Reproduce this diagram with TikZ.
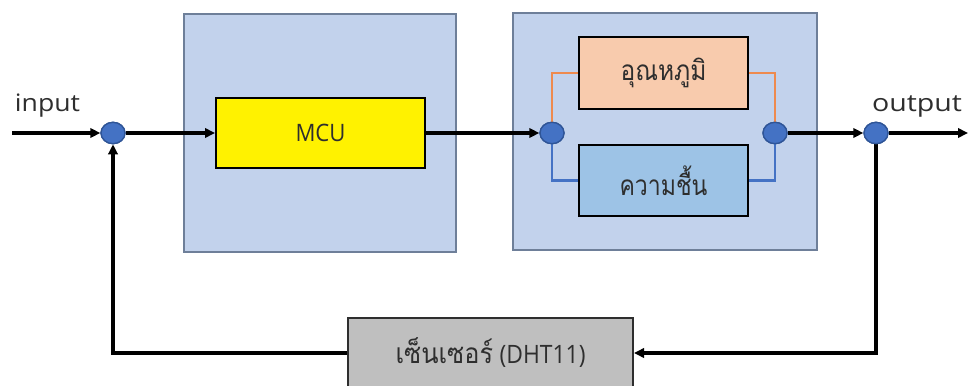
\documentclass[tikz,border=0pt]{standalone}
\usepackage{fontspec}
\usepackage{graphicx}
\setmainfont{Open Sans}
\newfontfamily\thaifont[Script=Thai]{Loma}
\usetikzlibrary{arrows.meta,shapes.geometric}
\definecolor{bigfill}{HTML}{C2D2EC}
\definecolor{bigline}{HTML}{6E7F99}
\definecolor{tempfill}{HTML}{F8CBAD}
\definecolor{humfill}{HTML}{9DC3E6}
\definecolor{orangeline}{HTML}{EE8A4E}
\definecolor{blueline}{HTML}{4472C4}
\definecolor{dotfill}{HTML}{4472C4}
\definecolor{dotline}{HTML}{2F5597}
\definecolor{sensfill}{HTML}{BFBFBF}
\definecolor{txt}{HTML}{2E2E2E}
\newcommand{\fitw}[2]{\resizebox{#1}{\height}{#2}}
\tikzset{
  bigbox/.style={draw=bigline, fill=bigfill, line width=1.6pt},
  blockbox/.style={draw=black, line width=1.5pt, inner sep=0pt, text=txt},
  dot/.style={ellipse, draw=dotline, fill=dotfill, line width=1pt, minimum width=18pt, minimum height=16pt, inner sep=0pt},
  conn/.style={line width=2.3pt, black},
  arr/.style={conn, -{Triangle[length=7.5pt,width=7pt]}},
  branch/.style={line width=2.2pt},
  lbl/.style={text=txt, inner sep=0pt, font=\fontsize{18pt}{20pt}\selectfont},
  thlbl/.style={text=txt, inner sep=0pt, font=\fontsize{21pt}{22pt}\selectfont},
}
\begin{document}
\begin{tikzpicture}[x=0.75pt,y=-0.75pt]
\useasboundingbox[fill=white] (0,0) rectangle (969,385);
% big boxes
\draw[bigbox] (184,14) rectangle (456,252);
\draw[bigbox] (513,13) rectangle (817,250);
% blocks
\node[blockbox, fill=yellow, minimum width=156.75pt, minimum height=52.5pt] (mcu) at (320.5,133) {};
\node[lbl] at (mcu.center) {\fitw{37.5pt}{MCU}};
\node[blockbox, fill=tempfill, minimum width=126.75pt, minimum height=54pt] (temp) at (663.5,73) {};
\node[thlbl] at (temp.center) {\thaifont\fitw{64.5pt}{อุณหภูมิ}};
\node[blockbox, fill=humfill, minimum width=126.75pt, minimum height=53.25pt] (hum) at (663.5,180.5) {};
\node[thlbl] at (hum.center) {\thaifont\fitw{66pt}{ความชื้น}};
\node[blockbox, draw=txt, fill=sensfill, minimum width=213.75pt, minimum height=52.5pt] (sens) at (490.5,353) {};
\node[thlbl] at (sens.center) {\fitw{142.5pt}{{\thaifont เซ็นเซอร์} {\fontsize{19pt}{20pt}\selectfont(DHT11)}}};
% dots
\node[dot] (in) at (113,133) {};
\node[dot] (j1) at (552,133) {};
\node[dot] (j2) at (775,133) {};
\node[dot] (out) at (876,133) {};
% coordinates
\coordinate (start) at (12,133);
\coordinate (end) at (968,133);
% labels
\node[lbl, anchor=base] (inlbl) at (47.5,111) {\fitw{48.75pt}{input}};
\node[lbl, anchor=base] (outlbl) at (917,111) {\fitw{67.5pt}{output}};
% parallel branch lines
\draw[branch, orangeline] (j1.north) |- (temp.west);
\draw[branch, orangeline] (temp.east) -| (j2.north);
\draw[branch, blueline] (j1.south) |- (hum.west);
\draw[branch, blueline] (hum.east) -| (j2.south);
% main connectors
\draw[arr] (start) -- (in.west);
\draw[arr] (in.east) -- (mcu.west);
\draw[arr] (mcu.east) -- (j1.west);
\draw[arr] (j2.east) -- (out.west);
\draw[arr] (out.east) -- (end);
\draw[arr] (out.south) |- (sens.east);
\draw[arr] (sens.west) -| (in.south);
\node[dot] at (in) {};
\node[dot] at (j1) {};
\node[dot] at (j2) {};
\node[dot] at (out) {};
\end{tikzpicture}
\end{document}
